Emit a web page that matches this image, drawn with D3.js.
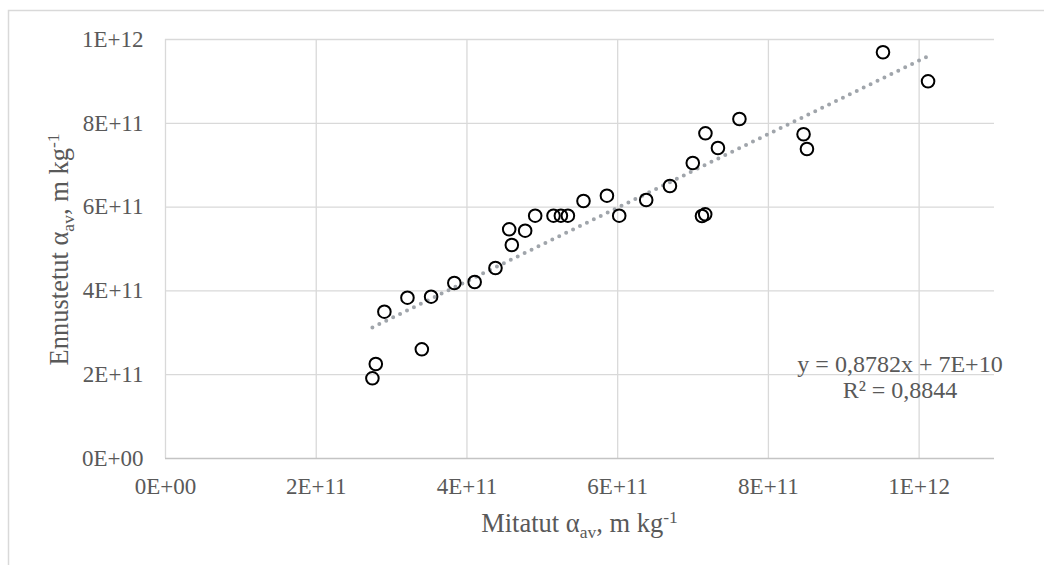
<!DOCTYPE html>
<html>
<head>
<meta charset="utf-8">
<script src="https://cdn.jsdelivr.net/npm/d3@7"></script>
<style>
  html, body { margin: 0; padding: 0; background: #ffffff; }
  svg { display: block; }
  text { font-family: "Liberation Serif", "Times New Roman", serif; fill: #595959; }
</style>
</head>
<body>
<svg id="chart" width="1044" height="565"></svg>
<script>
// Measured vs. predicted specific cake resistance (m/kg)
const measured = [
  2.752e11, 2.797e11, 2.911e11, 3.217e11, 3.408e11, 3.531e11, 3.839e11, 4.109e11,
  4.385e11, 4.567e11, 4.602e11, 4.779e11, 4.912e11, 5.155e11, 5.253e11, 5.346e11,
  5.553e11, 5.864e11, 6.027e11, 6.385e11, 6.700e11, 7.003e11, 7.125e11, 7.168e11,
  7.171e11, 7.337e11, 7.622e11, 8.473e11, 8.518e11, 9.527e11, 1.0125e12
];
const predicted = [
  1.902e11, 2.243e11, 3.492e11, 3.826e11, 2.594e11, 3.850e11, 4.177e11, 4.200e11,
  4.535e11, 5.458e11, 5.084e11, 5.425e11, 5.783e11, 5.783e11, 5.783e11, 5.783e11,
  6.134e11, 6.260e11, 5.783e11, 6.158e11, 6.492e11, 7.041e11, 5.776e11, 5.816e11,
  7.749e11, 7.399e11, 8.091e11, 7.726e11, 7.375e11, 9.683e11, 8.990e11
];

// Linear trendline as reported on the chart
const trendSlope = 0.8782;
const trendIntercept = 7e10;
const trendLabels = ["y = 0,8782x + 7E+10", "R² = 0,8844"];

// Axis ticks
const xTickValues = [0, 2e11, 4e11, 6e11, 8e11, 1e12];
const xTickLabels = ["0E+00", "2E+11", "4E+11", "6E+11", "8E+11", "1E+12"];
const yTickValues = [0, 2e11, 4e11, 6e11, 8e11, 1e12];
const yTickLabels = ["0E+00", "2E+11", "4E+11", "6E+11", "8E+11", "1E+12"];

const svg = d3.select("#chart");

// Chart frame
svg.append("rect")
  .attr("x", 8.5).attr("y", 10.5)
  .attr("width", 1100).attr("height", 600)
  .attr("fill", "none").attr("stroke", "#d9d9d9").attr("stroke-width", 1.5);

const plot = { left: 165, right: 994, top: 39, bottom: 458 };

const x = d3.scaleLinear().domain([0, 1.1e12]).range([plot.left, plot.right]);
const y = d3.scaleLinear().domain([0, 1e12]).range([plot.bottom, plot.top]);

const tickFont = "23px";

// Vertical gridlines + x tick labels
const xAxis = d3.axisBottom(x)
  .tickValues(xTickValues)
  .tickFormat((d, i) => xTickLabels[i])
  .tickSizeInner(-(plot.bottom - plot.top))
  .tickSizeOuter(0)
  .tickPadding(19.5);

const gx = svg.append("g")
  .attr("transform", `translate(0,${plot.bottom})`)
  .call(xAxis);
gx.selectAll(".tick line").attr("stroke", "#d9d9d9").attr("stroke-width", 1.3);
gx.select(".domain").remove();
gx.selectAll(".tick text")
  .attr("fill", "#595959")
  .style("font-size", tickFont)
  .style("font-family", "\"Liberation Serif\", \"Times New Roman\", serif");

// Horizontal gridlines + y tick labels
const yAxis = d3.axisLeft(y)
  .tickValues(yTickValues)
  .tickFormat((d, i) => yTickLabels[i])
  .tickSizeInner(-(plot.right - plot.left))
  .tickSizeOuter(0)
  .tickPadding(21.5);

const gy = svg.append("g")
  .attr("transform", `translate(${plot.left},0)`)
  .call(yAxis);
gy.selectAll(".tick line")
  .attr("stroke", d => d === 0 ? "#c4c4c4" : "#d9d9d9")
  .attr("stroke-width", d => d === 0 ? 1.6 : 1.3);
gy.select(".domain").remove();
gy.selectAll(".tick text")
  .attr("fill", "#595959")
  .style("font-size", tickFont)
  .style("font-family", "\"Liberation Serif\", \"Times New Roman\", serif");

// Trendline over the span of the measured values
const xMin = d3.min(measured), xMax = d3.max(measured);
svg.append("line")
  .attr("x1", x(xMin)).attr("y1", y(trendSlope * xMin + trendIntercept))
  .attr("x2", x(xMax)).attr("y2", y(trendSlope * xMax + trendIntercept))
  .attr("stroke", "#a0a5ab")
  .attr("stroke-width", 4)
  .attr("stroke-linecap", "round")
  .attr("stroke-dasharray", "0 7.7");

// Data markers
svg.append("g")
  .selectAll("circle")
  .data(measured.map((m, i) => [m, predicted[i]]))
  .join("circle")
  .attr("cx", d => x(d[0]))
  .attr("cy", d => y(d[1]))
  .attr("r", 6.3)
  .attr("fill", "none")
  .attr("stroke", "#000000")
  .attr("stroke-width", 2);

// Trendline equation
const eq = svg.append("text")
  .attr("text-anchor", "middle")
  .style("font-size", "24px");
eq.append("tspan").attr("x", 900).attr("y", 371.5).text(trendLabels[0]);
eq.append("tspan").attr("x", 900).attr("y", 398).text(trendLabels[1]);

// Axis titles with subscript / superscript
function axisTitle(sel, prefix) {
  sel.append("tspan").text(prefix + " α");
  sel.append("tspan").attr("dy", "6").style("font-size", "17.5px").text("av");
  sel.append("tspan").attr("dy", "-6").text(", m kg");
  sel.append("tspan").attr("dy", "-9").style("font-size", "17.5px").text("-1");
}

const xTitle = svg.append("text")
  .attr("x", (plot.left + plot.right) / 2)
  .attr("y", 532)
  .attr("text-anchor", "middle")
  .style("font-size", "26.5px");
axisTitle(xTitle, "Mitatut");

const yTitle = svg.append("text")
  .attr("transform", `translate(68,${(plot.top + plot.bottom) / 2 + 1}) rotate(-90)`)
  .attr("text-anchor", "middle")
  .style("font-size", "26.5px");
axisTitle(yTitle, "Ennustetut");
</script>
</body>
</html>
